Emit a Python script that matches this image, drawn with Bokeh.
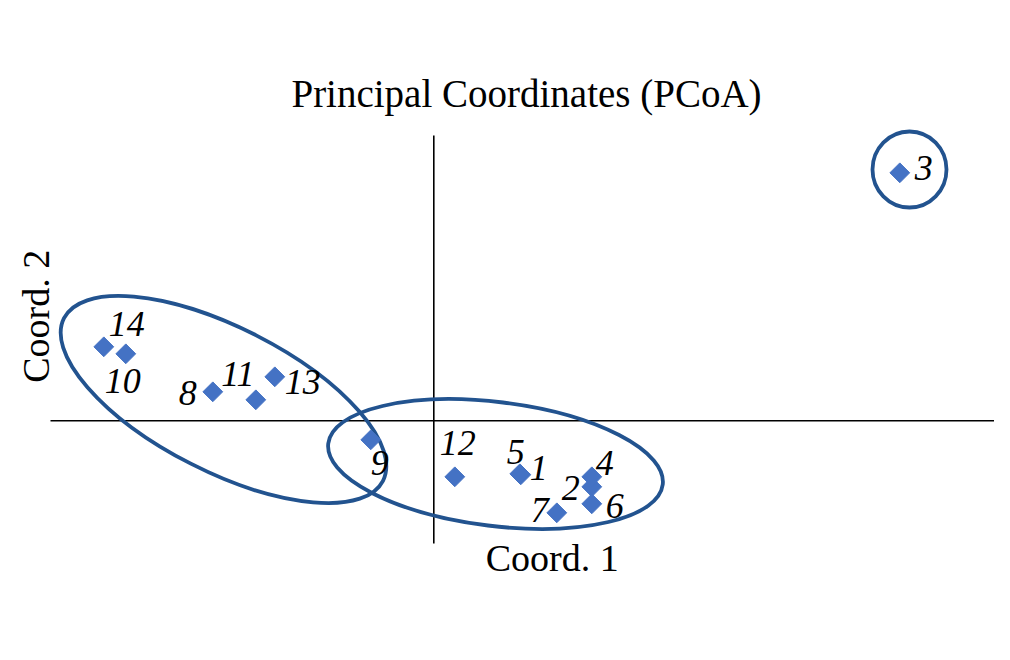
from bokeh.plotting import figure
from bokeh.models import ColumnDataSource, Range1d, Label
from bokeh.embed import file_html
from bokeh.resources import INLINE
from bokeh.core.properties import value
import math

# ---- data (PCoA scores) ----
sample_ids = ["1", "2", "3", "4", "5", "6", "7", "8", "9", "10", "11", "12", "13", "14"]
coord1 = [0.087, 0.158, 0.466, 0.158, 0.086, 0.158, 0.123, -0.221, -0.063, -0.308, -0.178, 0.021, -0.159, -0.330]
coord2 = [-0.054, -0.066, 0.248, -0.056, -0.053, -0.083, -0.092, 0.029, -0.019, 0.067, 0.021, -0.056, 0.044, 0.074]

# group ellipses: centre x, centre y, width, height, angle (deg)
group_cx = [-0.2103, 0.0617, 0.4757]
group_cy = [0.0213, -0.0432, 0.2513]
group_w = [0.358, 0.337, 0.074]
group_h = [0.144, 0.124, 0.076]
group_angle = [-27, -7, 0]

title_text = "Principal Coordinates (PCoA)"
xlabel_text = "Coord. 1"
ylabel_text = "Coord. 2"

# label pixel offsets (dx right, dy up) per sample
label_dx = [18, -21, 24, 13, -4, 23, -17, -25, 9, -3, -18, 3, 28, 23]
label_dy = [7, -1, 5, 14, 22, -2, 3, -1, -23, -27, 26, 34, -5, 23]

FONT = "Liberation Serif"

p = figure(width=994, height=644, output_backend="svg", toolbar_location=None,
           x_range=Range1d(-0.4333, 0.5607), y_range=Range1d(-0.2237, 0.4203),
           x_axis_location=None, y_axis_location=None, min_border=0)
p.grid.visible = False
p.outline_line_color = None
p.background_fill_color = "white"

# cross axes
p.segment(x0=[-0.3833, 0.0], y0=[0.0, 0.2853], x1=[0.5617, 0.0], y1=[0.0, -0.1227],
          line_color="black", line_width=1.6)

# group ellipses
p.ellipse(x=group_cx, y=group_cy, width=group_w, height=group_h,
          angle=[math.radians(a) for a in group_angle],
          fill_color=None, line_color="#22538F", line_width=3.8)

src = ColumnDataSource(dict(x=coord1, y=coord2, t=sample_ids, dx=label_dx,
                            dy=[-d for d in label_dy]))
p.scatter(x="x", y="y", source=src, marker="square", size=14, angle=math.pi / 4,
          fill_color="#4472C4", line_color="#4472C4")
p.text(x="x", y="y", text="t", source=src, x_offset="dx", y_offset="dy",
       text_font=value(FONT), text_font_style="italic", text_font_size="36px",
       text_align="center", text_baseline="middle", text_color="black")

p.add_layout(Label(x=0.0927, y=0.327, text=title_text, text_font=FONT,
                   text_font_size="39px", text_align="center",
                   text_baseline="alphabetic", text_color="black"))
p.add_layout(Label(x=0.1184, y=-0.1374, text=xlabel_text, text_font=FONT,
                   text_font_size="38px", text_align="center",
                   text_baseline="alphabetic", text_color="black"))
p.add_layout(Label(x=-0.3983, y=0.1045, text=ylabel_text, text_font=FONT,
                   text_font_size="38px", text_align="center", angle=math.pi / 2,
                   text_baseline="alphabetic", text_color="black"))

open("out.html", "w").write(file_html(p, INLINE))
